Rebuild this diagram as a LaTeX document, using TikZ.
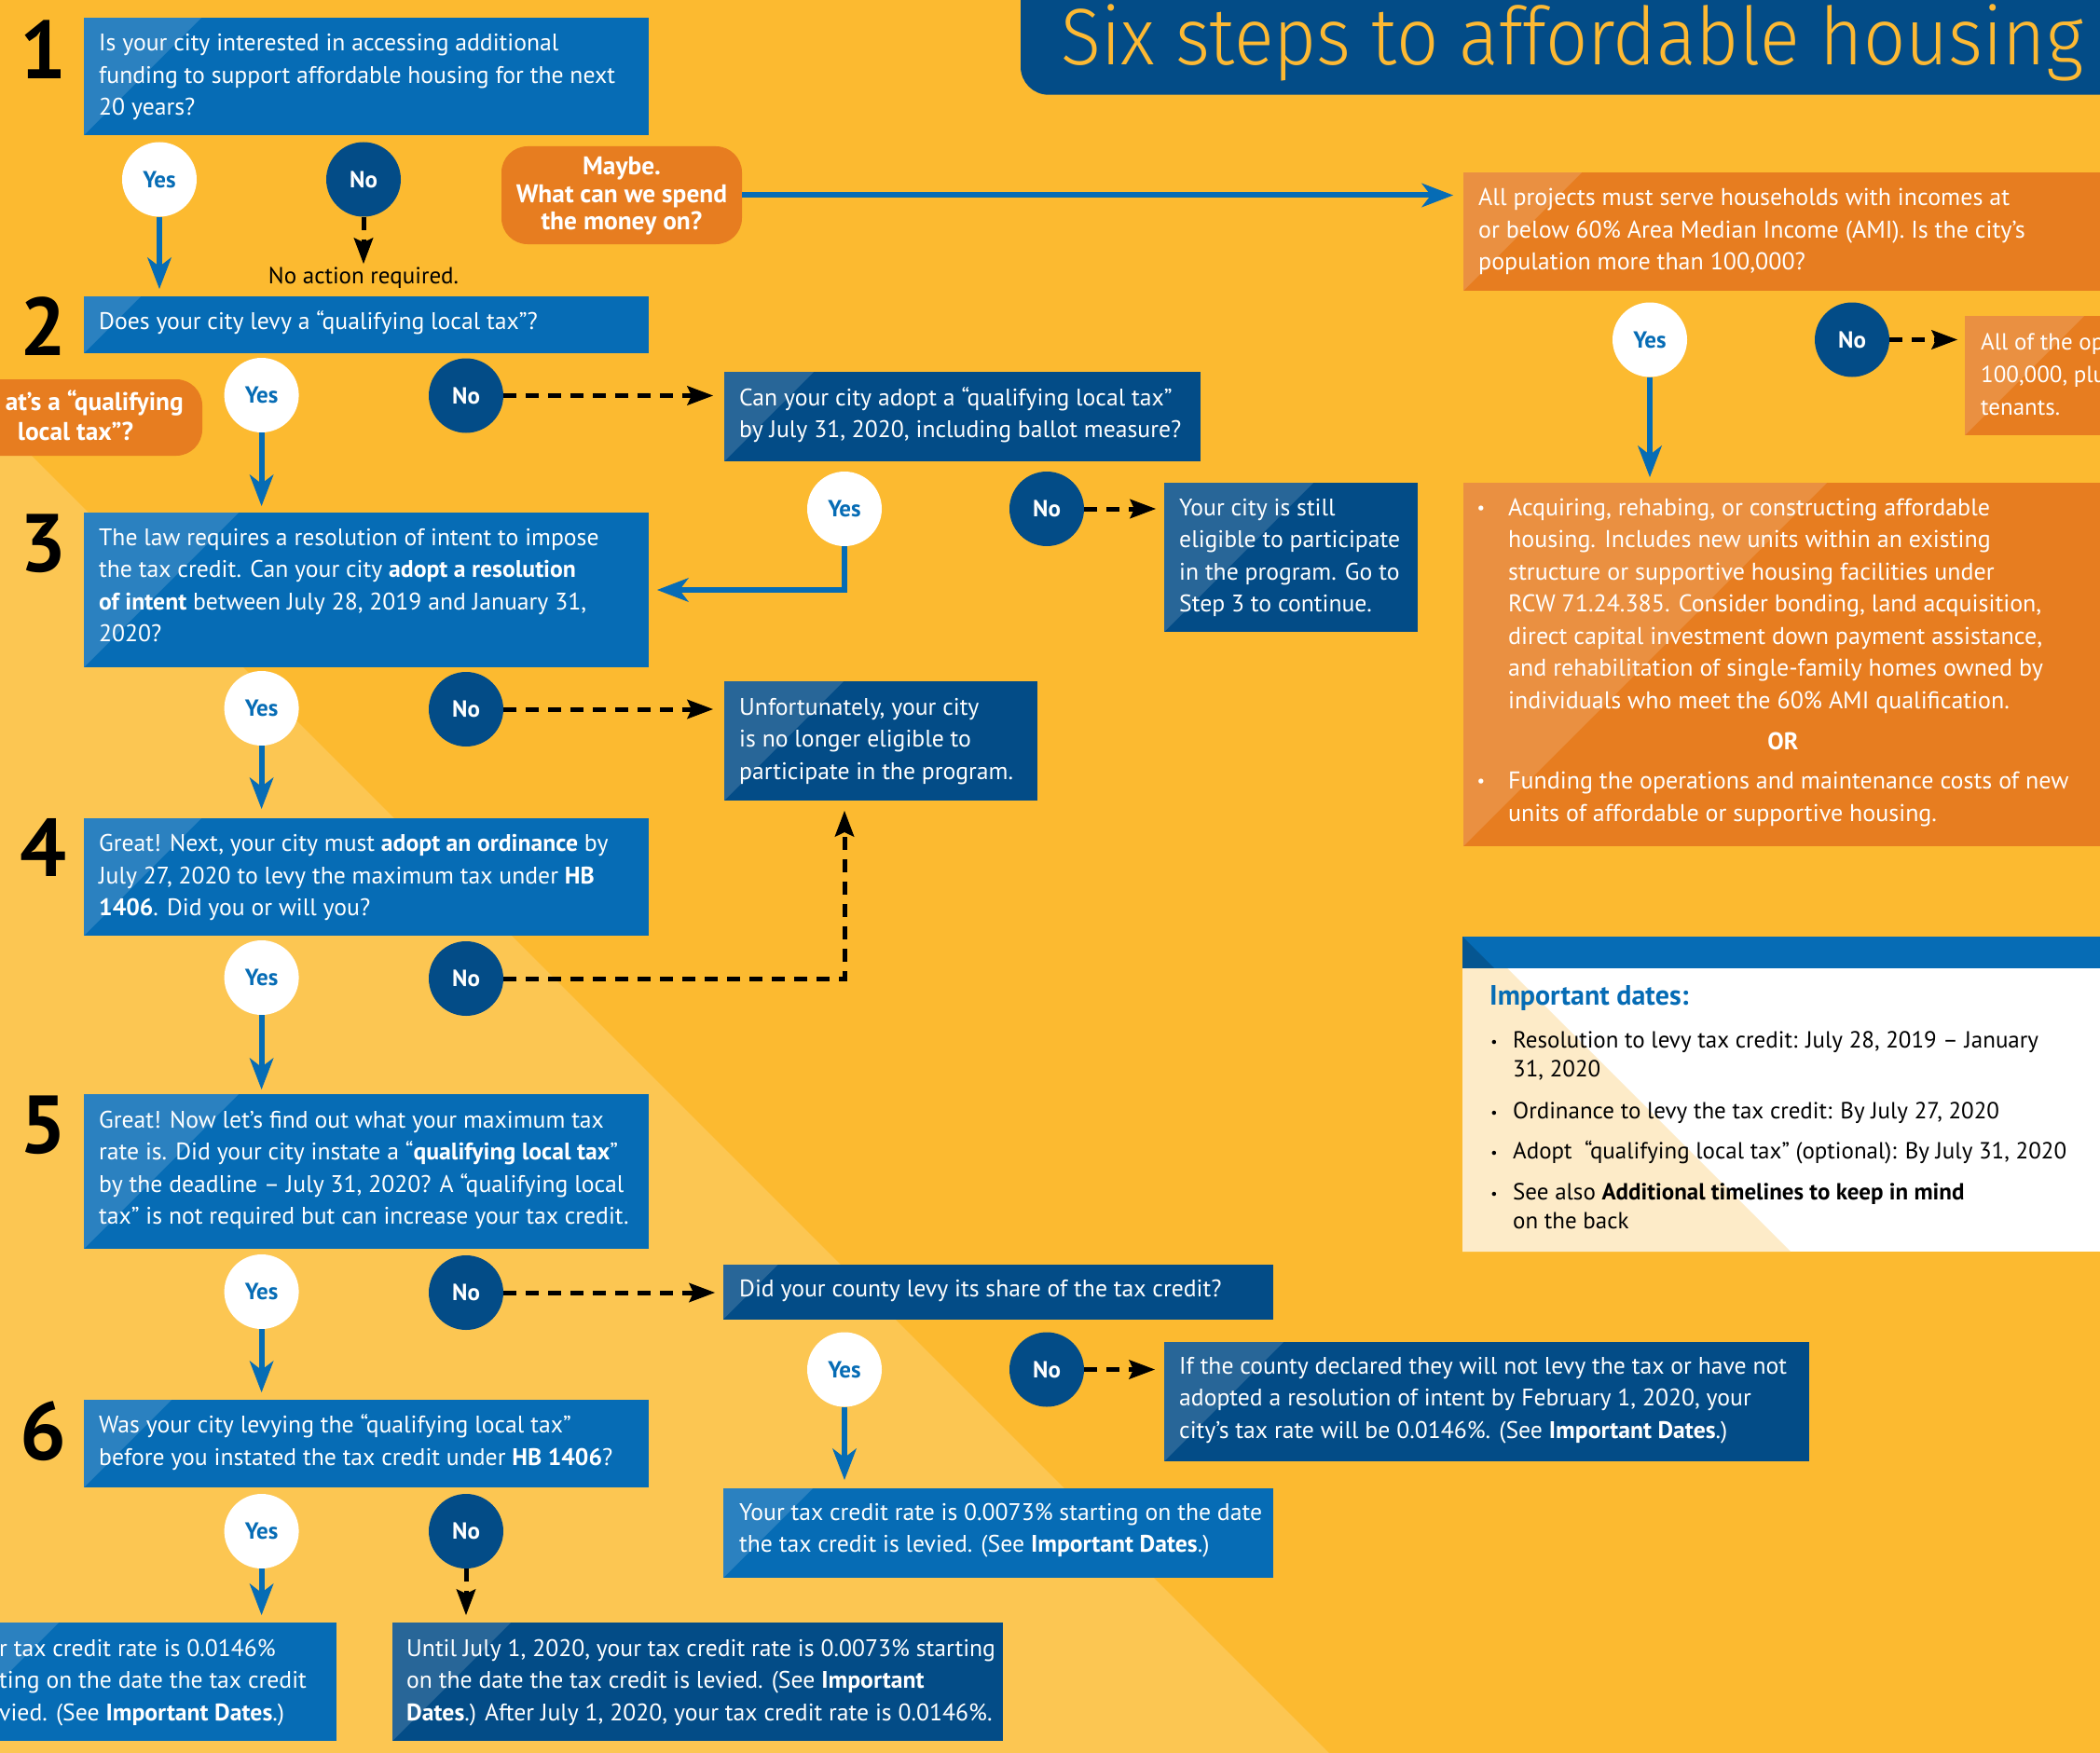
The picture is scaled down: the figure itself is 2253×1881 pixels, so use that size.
\documentclass[tikz,border=0pt]{standalone}
\usepackage{fontspec}
\setmainfont{PT Sans}
\newfontfamily\titlefont{Fira Sans Light}
\usepackage{graphicx}
\usetikzlibrary{arrows.meta,calc}
\definecolor{bgY}{RGB}{252,186,48}
\definecolor{bgL}{RGB}{252,198,82}
\definecolor{mblue}{RGB}{6,108,181}
\definecolor{dblue}{RGB}{3,76,135}
\definecolor{orng}{RGB}{231,125,32}
\definecolor{cream}{RGB}{253,235,200}
\definecolor{tyel}{RGB}{253,185,51}
\newcommand\fs[2]{\fontsize{#1}{#2}\selectfont}
\newcommand\lns[1]{\begin{tabular}[t]{@{}l@{}}#1\end{tabular}}
\newcommand\clns[1]{\begin{tabular}[t]{@{}c@{}}#1\end{tabular}}
\begin{document}
\begin{tikzpicture}[x=1pt,y=-1pt,
  gloss/.style={path picture={\fill[white,opacity=.15] let \p1=(path picture bounding box.north west),\p2=(path picture bounding box.south west) in (\p1) -- ({\x1+\y1-\y2},\y1) -- (\p2) -- cycle;}},
  rbox/.style={inner sep=0pt,outer sep=0pt,anchor=north west},
  mb/.style={rbox,fill=mblue,gloss},
  db/.style={rbox,fill=dblue,gloss},
  ob/.style={rbox,fill=orng,gloss},
  tx/.style={inner sep=0pt,anchor=base west,text=white,font=\fs{25.7}{34.5}},
  otx/.style={tx,font=\fs{26}{34.45}},
  dtx/.style={tx,text=black,font=\fs{25}{31.7}},
  btx/.style={inner sep=0pt,text=white,font=\fs{27.4}{29.3}\bfseries},
  digit/.style={inner sep=0pt,anchor=base,text=black,font=\fs{88}{88}\bfseries},
  yc/.style={circle,fill=white,minimum size=80pt,inner sep=0pt,text=mblue,font=\fs{25}{25}\bfseries},
  nc/.style={circle,fill=dblue,minimum size=80pt,inner sep=0pt,text=white,font=\fs{25}{25}\bfseries},
  ya/.style={draw=mblue,line width=6pt,-{Stealth[length=34pt,width=26pt,inset=10pt,line width=1pt]}},
  na/.style={draw=black,line width=5pt,dash pattern=on 14pt off 10pt,-{Stealth[length=28pt,width=21pt,inset=5pt,line width=1pt]}},
  bul/.style={inner sep=0pt,anchor=base,font=\fs{16}{16}}
]
\useasboundingbox (0,0) rectangle (2253,1881);
\clip (0,0) rectangle (2253,1881);
% background
\fill[bgY] (0,0) rectangle (2253,1881);
\fill[bgL] (0,455) -- (1426,1881) -- (0,1881) -- cycle;

% title
\fill[dblue,rounded corners=30pt] (1095,-60) rectangle (2330,101.7);
\node[inner sep=0pt,anchor=base west,text=tyel,font=\titlefont\fs{86}{86}] (title) at (1138,70) {\resizebox{1097pt}{\height}{Six steps to affordable housing}};

% step digits
\node[digit] (d1) at (46,85) {1};
\node[digit] (d2) at (46,381.7) {2};
\node[digit] (d3) at (46,613) {3};
\node[digit] (d4) at (46,940) {4};
\node[digit] (d5) at (46,1237) {5};
\node[digit] (d6) at (46,1566) {6};

% step boxes
\node[mb,minimum width=606pt,minimum height=126pt] (s1) at (90,19) {};
\node[tx] (s1t) at (106,55) {\lns{Is your city interested in accessing additional\\funding to support affordable housing for the next\\20 years?}};
\node[mb,minimum width=606pt,minimum height=61pt] (s2) at (90,318) {};
\node[tx] (s2t) at (106,353) {Does your city levy a “qualifying local tax”?};
\node[mb,minimum width=606pt,minimum height=166pt] (s3) at (90,550) {};
\node[tx] (s3t) at (106,585) {\lns{The law requires a resolution of intent to impose\\the tax credit. Can your city \textbf{adopt a resolution}\\\textbf{of intent} between July 28, 2019 and January 31,\\2020?}};
\node[mb,minimum width=606pt,minimum height=126pt] (s4) at (90,878) {};
\node[tx] (s4t) at (106,913.5) {\lns{Great! Next, your city must \textbf{adopt an ordinance} by\\July 27, 2020 to levy the maximum tax under \textbf{HB}\\\textbf{1406}. Did you or will you?}};
\node[mb,minimum width=606pt,minimum height=166pt] (s5) at (90,1174) {};
\node[tx] (s5t) at (106,1210) {\lns{Great! Now let’s find out what your maximum tax\\rate is. Did your city instate a “\textbf{qualifying local tax}”\\by the deadline – July 31, 2020? A “qualifying local\\tax” is not required but can increase your tax credit.}};
\node[mb,minimum width=606pt,minimum height=94pt] (s6) at (90,1502) {};
\node[tx] (s6t) at (106,1537.5) {\lns{Was your city levying the “qualifying local tax”\\before you instated the tax credit under \textbf{HB 1406}?}};

% side boxes
\node[db,minimum width=511pt,minimum height=96pt] (adopt) at (777,399) {};
\node[tx] (adoptt) at (793,435) {\lns{Can your city adopt a “qualifying local tax”\\by July 31, 2020, including ballot measure?}};
\node[db,minimum width=272pt,minimum height=160pt] (still) at (1249,518) {};
\node[tx] (stillt) at (1265,553) {\lns{Your city is still\\eligible to participate\\in the program. Go to\\Step 3 to continue.}};
\node[db,minimum width=336pt,minimum height=128pt] (unf) at (777,731) {};
\node[tx] (unft) at (793,767) {\lns{Unfortunately, your city\\is no longer eligible to\\participate in the program.}};
\node[db,minimum width=590pt,minimum height=58.5pt] (county) at (776,1357) {};
\node[tx] (countyt) at (793,1391.5) {Did your county levy its share of the tax credit?};
\node[db,minimum width=692pt,minimum height=128pt] (ifc) at (1249,1440) {};
\node[tx] (ifct) at (1265,1474) {\lns{If the county declared they will not levy the tax or have not\\adopted a resolution of intent by February 1, 2020, your\\city’s tax rate will be 0.0146\%. (See \textbf{Important Dates}.)}};
\node[mb,minimum width=590pt,minimum height=96pt] (rate) at (776,1597) {};
\node[tx] (ratet) at (793,1631) {\lns{Your tax credit rate is 0.0073\% starting on the date\\the tax credit is levied. (See \textbf{Important Dates}.)}};
\node[db,minimum width=655pt,minimum height=127pt] (until) at (421,1741) {};
\node[tx] (untilt) at (436,1777) {\lns{Until July 1, 2020, your tax credit rate is 0.0073\% starting\\on the date the tax credit is levied. (See \textbf{Important}\\\textbf{Dates}.) After July 1, 2020, your tax credit rate is 0.0146\%.}};
\node[mb,minimum width=425pt,minimum height=127pt] (bl) at (-64,1741) {};
\node[tx] (bl1) at (-1,1777) {r tax credit rate is 0.0146\%};
\node[tx] (bl2) at (-1,1811.5) {ting on the date the tax credit};
\node[tx] (bl3) at (-1,1846) {vied. (See \textbf{Important Dates}.)};

% orange boxes
\node[rbox,fill=orng,rounded corners=28pt,minimum width=258pt,minimum height=105pt] (maybe) at (538,157) {};
\node[btx,anchor=base] (maybet) at (667,188) {\clns{Maybe.\\What can we spend\\the money on?}};
\node[rbox,fill=orng,rounded corners=28pt,minimum width=257pt,minimum height=82pt] (whats) at (-40,407) {};
\node[btx,anchor=base east] (whats1) at (197,440) {at’s a “qualifying};
\node[btx,anchor=base] (whats2) at (81,472) {local tax”?};
\node[ob,minimum width=700pt,minimum height=127pt] (allp) at (1570,185) {};
\node[otx] (allpt) at (1586,221) {\lns{All projects must serve households with incomes at\\or below 60\% Area Median Income (AMI). Is the city’s\\population more than 100,000?}};
\node[ob,minimum width=200pt,minimum height=128pt] (allop) at (2108,339) {};
\node[otx,font=\fs{25}{35}] (allopt) at (2125,375) {\lns{All of the op\\100,000, plu\\tenants.}};
\node[ob,minimum width=700pt,minimum height=390pt] (big) at (1570,518) {};
\node[bul,text=white,font=\fs{19}{19}] (bb1) at (1589,551) {•};
\node[otx] (bigt1) at (1618,553.3) {\lns{Acquiring, rehabing, or constructing affordable\\housing. Includes new units within an existing\\structure or supportive housing facilities under\\RCW 71.24.385. Consider bonding, land acquisition,\\direct capital investment down payment assistance,\\and rehabilitation of single-family homes owned by\\individuals who meet the 60\% AMI qualification.}};
\node[inner sep=0pt,anchor=base,text=white,font=\fs{26}{26}\bfseries] (ort) at (1913,804) {OR};
\node[bul,text=white,font=\fs{19}{19}] (bb2) at (1589,844.5) {•};
\node[otx] (bigt2) at (1618,846.7) {\lns{Funding the operations and maintenance costs of new\\units of affordable or supportive housing.}};

% important dates
\node[rbox,fill=mblue,minimum width=700pt,minimum height=34pt] (idh) at (1569,1005) {};
\fill[mblue!80!black] (1569,1005) -- (1603,1039) -- (1569,1039) -- cycle;
\node[rbox,fill=white,minimum width=700pt,minimum height=304pt] (idb) at (1569,1039) {};
\fill[cream] (1569,1039) -- (1617,1039) -- (1921,1343) -- (1569,1343) -- cycle;
\node[inner sep=0pt,anchor=base west,text=mblue,font=\fs{30}{30}\bfseries] (idt) at (1598,1078) {Important dates:};
\node[bul] (ib1) at (1603,1123) {•};
\node[dtx] (id1) at (1623,1124) {\lns{Resolution to levy tax credit: July 28, 2019 – January\\31, 2020}};
\node[bul] (ib2) at (1603,1199) {•};
\node[dtx] (id2) at (1623,1200) {Ordinance to levy the tax credit: By July 27, 2020};
\node[bul] (ib3) at (1603,1242) {•};
\node[dtx] (id3) at (1623,1243) {Adopt~ “qualifying local tax” (optional): By July 31, 2020};
\node[bul] (ib4) at (1603,1286) {•};
\node[dtx] (id4) at (1623,1287) {\lns{See also \textbf{Additional timelines to keep in mind}\\on the back}};

% yes / no circles
\node[yc] (y1) at (171,192.5) {Yes};
\node[nc] (n1) at (390,192.5) {No};
\node[yc] (y2) at (280.6,424) {Yes};
\node[nc] (n2) at (500,424.5) {No};
\node[yc] (y3) at (280.6,760) {Yes};
\node[nc] (n3) at (500,761) {No};
\node[yc] (y4) at (280.6,1049) {Yes};
\node[nc] (n4) at (500,1050) {No};
\node[yc] (y5) at (280.6,1386) {Yes};
\node[nc] (n5) at (500,1387) {No};
\node[yc] (y6) at (280.6,1643) {Yes};
\node[nc] (n6) at (500,1643) {No};
\node[yc] (ay) at (906,546) {Yes};
\node[nc] (an) at (1123,546) {No};
\node[yc] (cy) at (906,1469.5) {Yes};
\node[nc] (cn) at (1123,1469.5) {No};
\node[yc] (ry) at (1770,364.5) {Yes};
\node[nc] (rn) at (1987,364.5) {No};

\node[inner sep=0pt,anchor=base,text=black,font=\fs{25}{25}] (noact) at (390,304) {No action required.};

% yes arrows
\draw[ya,shorten >=8pt] (y1.south) -- (y1.south |- s2.north);
\draw[ya,shorten >=7pt] (y2.south) -- (y2.south |- s3.north);
\draw[ya,shorten >=10pt] (y3.south) -- (y3.south |- s4.north);
\draw[ya,shorten >=5pt] (y4.south) -- (y4.south |- s5.north);
\draw[ya,shorten >=8pt] (y5.south) -- (y5.south |- s6.north);
\draw[ya,shorten >=8pt] (y6.south) -- (y6.south |- bl.north);
\draw[ya,shorten >=9pt] (ay.south) |- (s3.east);
\draw[ya,shorten >=9pt] (cy.south) -- (cy.south |- rate.north);
\draw[ya,shorten >=6pt] (ry.south) -- (ry.south |- big.north);
\draw[ya,shorten >=11pt] (maybe.east) -- (maybe.east -| allp.west);

% no arrows
\draw[na,shorten >=3pt] (n1.south) -- (noact.north);
\draw[na,shorten >=12pt] (n2.east) -- (n2.east -| adopt.west);
\draw[na,shorten >=12pt] (n3.east) -- (n3.east -| unf.west);
\draw[na,shorten >=11pt] (n4.east) -| (ay.south |- unf.south);
\draw[na,shorten >=9pt] (n5.east) -- (n5.east -| county.west);
\draw[na,shorten >=8pt] (n6.south) -- (n6.south |- until.north);
\draw[na,shorten >=9pt] (an.east) -- (an.east -| still.west);
\draw[na,shorten >=10pt] (cn.east) -- (cn.east -| ifc.west);
\draw[na,shorten >=8pt] (rn.east) -- (rn.east -| allop.west);
\end{tikzpicture}
\end{document}
